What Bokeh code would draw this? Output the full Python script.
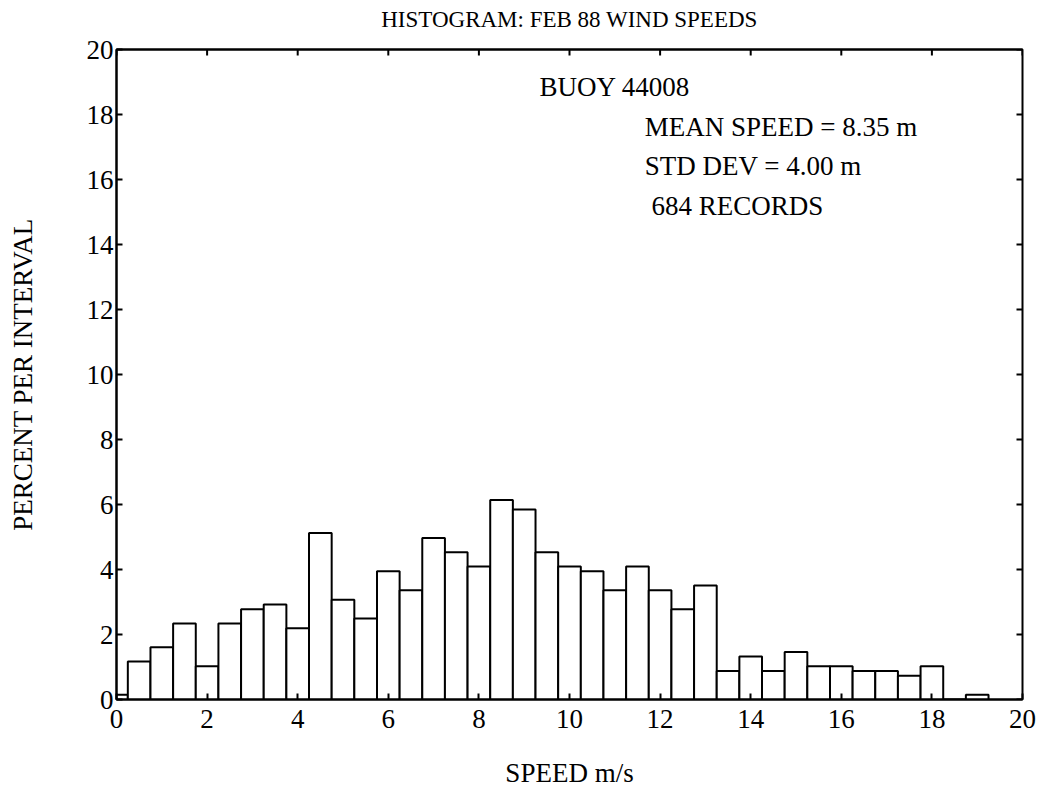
import math
from bokeh.plotting import figure
from bokeh.models import Range1d, FixedTicker, LinearAxis
from bokeh.core.properties import value
from bokeh.embed import file_html
from bokeh.resources import INLINE

# ---- data ----
bin_centers = [0.0, 0.5, 1.0, 1.5, 2.0, 2.5, 3.0, 3.5, 4.0, 4.5,
               5.0, 5.5, 6.0, 6.5, 7.0, 7.5, 8.0, 8.5, 9.0, 9.5,
               10.0, 10.5, 11.0, 11.5, 12.0, 12.5, 13.0, 13.5, 14.0, 14.5,
               15.0, 15.5, 16.0, 16.5, 17.0, 17.5, 18.0, 18.5, 19.0]
percent = [0.15, 1.17, 1.61, 2.34, 1.02, 2.34, 2.78, 2.92, 2.19, 5.12,
           3.07, 2.49, 3.95, 3.36, 4.97, 4.53, 4.09, 6.14, 5.85, 4.53,
           4.09, 3.95, 3.36, 4.09, 3.36, 2.78, 3.51, 0.88, 1.32, 0.88,
           1.46, 1.02, 1.02, 0.88, 0.88, 0.73, 1.02, 0.0, 0.15]
tick_values = [0, 2, 4, 6, 8, 10, 12, 14, 16, 18, 20]
note_texts = ["BUOY 44008", "MEAN SPEED = 8.35 m", "STD DEV = 4.00 m", "684 RECORDS"]
x_label = "SPEED m/s"
y_label = "PERCENT PER INTERVAL"
title_text = "HISTOGRAM: FEB 88 WIND SPEEDS"

# ---- layout / style ----
FONT = "Liberation Serif"
X_MIN, X_MAX, Y_MIN, Y_MAX = 0, 20, 0, 20
note_x = [9.34, 11.66, 11.66, 11.81]
note_y = [18.86, 17.63, 16.41, 15.18]

p = figure(width=1040, height=790, output_backend="svg", toolbar_location=None,
           x_range=Range1d(X_MIN, X_MAX), y_range=Range1d(Y_MIN, Y_MAX),
           min_border_left=116, min_border_right=18,
           min_border_top=49, min_border_bottom=89)

p.grid.visible = False
p.background_fill_color = "white"
p.border_fill_color = "white"
p.outline_line_color = "black"
p.outline_line_width = 2

for ax in (p.xaxis[0], p.yaxis[0]):
    ax.ticker = FixedTicker(ticks=tick_values)
    ax.major_tick_in = 6
    ax.major_tick_out = 0
    ax.minor_tick_in = 0
    ax.minor_tick_out = 0
    ax.axis_line_width = 2
    ax.axis_line_color = "black"
    ax.major_tick_line_width = 2
    ax.major_tick_line_color = "black"
    ax.major_label_text_font = FONT
    ax.major_label_text_font_size = "27px"
    ax.major_label_text_color = "black"
    ax.axis_label_text_font = FONT
    ax.axis_label_text_font_style = "normal"
    ax.axis_label_text_color = "black"

p.xaxis.axis_label = x_label
p.xaxis.axis_label_text_font_size = "27px"
p.xaxis.major_label_standoff = 10
p.xaxis.axis_label_standoff = 27

p.yaxis.axis_label = y_label
p.yaxis.axis_label_text_font_size = "27px"
p.yaxis.major_label_standoff = 3
p.yaxis.axis_label_standoff = 46

# chart title carried by a tick-less axis along the top edge
top_axis = LinearAxis(ticker=FixedTicker(ticks=[]), axis_label=title_text)
top_axis.axis_line_width = 2
top_axis.axis_line_color = "black"
top_axis.major_tick_in = 0
top_axis.major_tick_out = 0
top_axis.minor_tick_in = 0
top_axis.minor_tick_out = 0
top_axis.axis_label_text_font = FONT
top_axis.axis_label_text_font_size = "23px"
top_axis.axis_label_text_font_style = "normal"
top_axis.axis_label_text_color = "black"
top_axis.axis_label_standoff = 18
p.add_layout(top_axis, "above")

# inward ticks on the top and right edges of the frame
n = len(tick_values)
p.ray(x=tick_values, y=[Y_MAX] * n, length=6, length_units="screen",
      angle=-math.pi / 2, line_color="black", line_width=2)
p.ray(x=[X_MAX] * n, y=tick_values, length=6, length_units="screen",
      angle=math.pi, line_color="black", line_width=2)

p.vbar(x=bin_centers, top=percent, width=0.5, bottom=0,
       fill_color="white", line_color="black", line_width=2)

p.text(x=note_x, y=note_y, text=note_texts,
       text_font=value(FONT), text_font_size="27px",
       text_baseline="middle", text_align="left", text_color="black")

open("out.html", "w").write(file_html(p, INLINE))
